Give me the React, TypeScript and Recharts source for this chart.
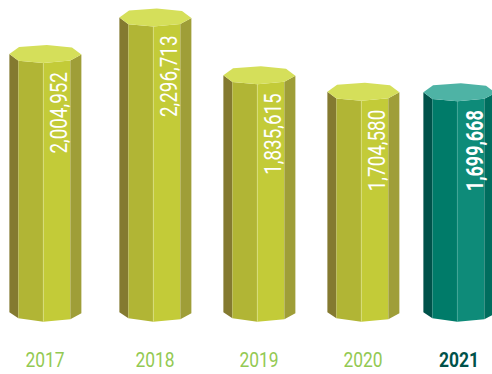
import { BarChart, Bar, XAxis, YAxis, LabelList } from "recharts";

const years = ["2017", "2018", "2019", "2020", "2021"];
const totals = [2004952, 2296713, 1835615, 1704580, 1699668];
const highlightYear = "2021";

const data = years.map((year, i) => ({ year, total: totals[i] }));

// columns sit slightly off the even spacing of the axis
const shiftByYear: Record<string, number> = { "2018": 6.75, "2019": 7.5, "2020": 8.25, "2021": 1 };

const olive = { cap: "#d5df5a", left: "#847a30", mid: "#b1b535", front: "#c3cb38", right: "#9f9e38", edge: "#dde28a" };
const teal = { cap: "#4eb3a5", left: "#00524a", mid: "#007b69", front: "#0e8b79", right: "#006d5e", edge: "#3fa797" };

const FONT = "Roboto, 'Liberation Sans', Arial, sans-serif";

// the drawn foot of a column hangs this far below its zero line
const FOOT = 7;

const pts = (list: number[][]) => list.map((p) => p.join(",")).join(" ");

// eight-sided column: top cap plus the four visible faces
function Column(props: any) {
  const { x, y, width, height, payload } = props;
  const c = payload.year === highlightYear ? teal : olive;
  const dx = shiftByYear[payload.year] ?? 0;
  const left = x + dx;
  const r1 = left + width * 0.125;
  const r2 = left + width * 0.472;
  const r3 = left + width * 0.847;
  const right = left + width;
  const base = y + height + FOOT;

  const top = [[left, y], [r1, y + 6.7], [r2, y + 9], [r3, y + 6.5], [right, y + 0.5]];
  const bottom = [[left, base], [r1, base + 6], [r2, base + 9.4], [r3, base + 7], [right, base + 1]];
  const face = (i: number) => pts([top[i], top[i + 1], bottom[i + 1], bottom[i]]);

  return (
    <g>
      <polygon points={face(0)} fill={c.left} />
      <polygon points={face(1)} fill={c.mid} />
      <polygon points={face(2)} fill={c.front} />
      <polygon points={face(3)} fill={c.right} />
      <line x1={r2} y1={y + 9} x2={r2} y2={base + 9.4} stroke={c.edge} strokeWidth={0.6} />
      <polygon
        points={pts([
          ...top,
          [left + width * 0.87, y - 6.5],
          [left + width * 0.52, y - 9],
          [left + width * 0.135, y - 7],
        ])}
        fill={c.cap}
      />
    </g>
  );
}

function ValueLabel(props: any) {
  const { x, y, value, index } = props;
  const year = years[index];
  const dx = shiftByYear[year] ?? 0;
  const bold = year === highlightYear;
  const cx = x + dx + (bold ? 60 : 57.5);
  const ty = y + 18;
  return (
    <text
      transform={`translate(${cx} ${ty}) rotate(-90) scale(${bold ? 0.78 : 0.82} 1)`}
      textAnchor="end"
      fill="#ffffff"
      fontFamily={FONT}
      fontSize={23}
      fontWeight={bold ? 700 : 400}
    >
      {Number(value).toLocaleString("en-US")}
    </text>
  );
}

function YearTick(props: any) {
  const { x, y, payload } = props;
  const bold = payload.value === highlightYear;
  const tx = x + (shiftByYear[payload.value] ?? 0);
  return (
    <text
      transform={`translate(${tx} ${y + 56}) scale(0.85 1)`}
      textAnchor="middle"
      fill={bold ? "#00524a" : "#93c952"}
      fontFamily={FONT}
      fontSize={20.5}
      fontWeight={bold ? 700 : 400}
    >
      {payload.value}
    </text>
  );
}

export default function App() {
  return (
    <div style={{ position: "absolute", left: 0, top: 0, width: 492, height: 374, background: "#fff", overflow: "hidden" }}>
      <BarChart
        width={492}
        height={374}
        data={data}
        barSize={72}
        margin={{ top: 17.5, right: 0, bottom: 0, left: 0 }}
      >
        <XAxis
          dataKey="year"
          scale="point"
          padding={{ left: 45, right: 34 }}
          axisLine={false}
          tickLine={false}
          height={68.7}
          interval={0}
          tickMargin={0}
          tick={<YearTick />}
        />
        <YAxis hide domain={[0, 2296713]} />
        <Bar dataKey="total" shape={<Column />} isAnimationActive={false}>
          <LabelList dataKey="total" content={<ValueLabel />} />
        </Bar>
      </BarChart>
    </div>
  );
}
